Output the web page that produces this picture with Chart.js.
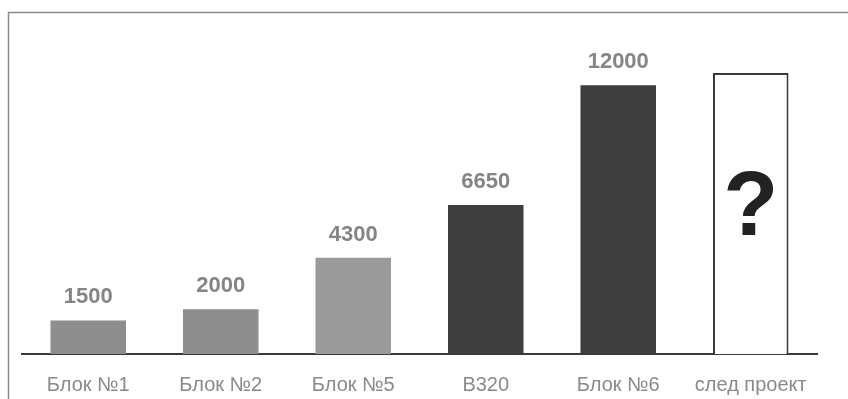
<!DOCTYPE html>
<html>
<head>
<meta charset="utf-8">
<script src="https://cdn.jsdelivr.net/npm/chart.js@4"></script>
<style>
html,body{margin:0;padding:0;background:#fff;}
#wrap{width:848px;height:399px;position:relative;}
</style>
</head>
<body>
<div id="wrap"><canvas id="c" width="848" height="399"></canvas></div>
<script>
const categories = ['Блок №1', 'Блок №2', 'Блок №5', 'B320', 'Блок №6', 'след проект'];
const values = [1500, 2000, 4300, 6650, 12000, 12550];
const valueLabels = ['1500', '2000', '4300', '6650', '12000', '?'];
const barColors = ['#8e8e8e', '#8e8e8e', '#9a9a9a', '#3e3e3e', '#3e3e3e', '#ffffff'];
const borderColors = ['#8e8e8e', '#8e8e8e', '#9a9a9a', '#3e3e3e', '#3e3e3e', '#3a3a3a'];

const framePlugin = {
  id: 'frame',
  beforeDraw(chart) {
    const ctx = chart.ctx;
    ctx.save();
    ctx.strokeStyle = '#8a8a8a';
    ctx.lineWidth = 1.5;
    ctx.beginPath();
    ctx.moveTo(8.5, 399);
    ctx.lineTo(8.5, 12.5);
    ctx.lineTo(848, 12.5);
    ctx.stroke();
    ctx.restore();
  }
};

const labelPlugin = {
  id: 'vlabels',
  afterDatasetsDraw(chart) {
    const ctx = chart.ctx;
    const meta = chart.getDatasetMeta(0);
    ctx.save();
    meta.data.forEach((bar, i) => {
      const txt = valueLabels[i];
      if (txt === '?') {
        ctx.fillStyle = '#222222';
        ctx.font = 'bold 90px "Liberation Sans", Arial, sans-serif';
        ctx.textAlign = 'center';
        ctx.textBaseline = 'alphabetic';
        const mid = (bar.y + bar.base) / 2;
        ctx.fillText(txt, bar.x, mid + 22);
      } else {
        ctx.fillStyle = '#858585';
        ctx.font = 'bold 22px "Liberation Sans", Arial, sans-serif';
        ctx.textAlign = 'center';
        ctx.textBaseline = 'alphabetic';
        ctx.fillText(txt, bar.x, bar.y - 17);
      }
    });
    ctx.restore();
  }
};

new Chart(document.getElementById('c'), {
  type: 'bar',
  data: {
    labels: categories,
    datasets: [{
      data: values,
      backgroundColor: barColors,
      borderColor: borderColors,
      borderWidth: [0, 0, 0, 0, 0, 2],
      barPercentage: 0.57,
      categoryPercentage: 1.0
    }]
  },
  options: {
    responsive: false,
    animation: false,
    layout: { padding: { left: 22, right: 31, top: 18, bottom: -17 } },
    plugins: { legend: { display: false }, tooltip: { enabled: false } },
    scales: {
      x: {
        grid: { display: false, drawTicks: false },
        border: { display: true, color: '#3a3a3a', width: 2 },
        ticks: {
          color: '#8a8a8a',
          padding: 19,
          font: { family: '"Liberation Sans", Arial, sans-serif', size: 20 }
        }
      },
      y: {
        display: false,
        min: 0,
        max: 15000
      }
    }
  },
  plugins: [framePlugin, labelPlugin]
});
</script>
</body>
</html>
